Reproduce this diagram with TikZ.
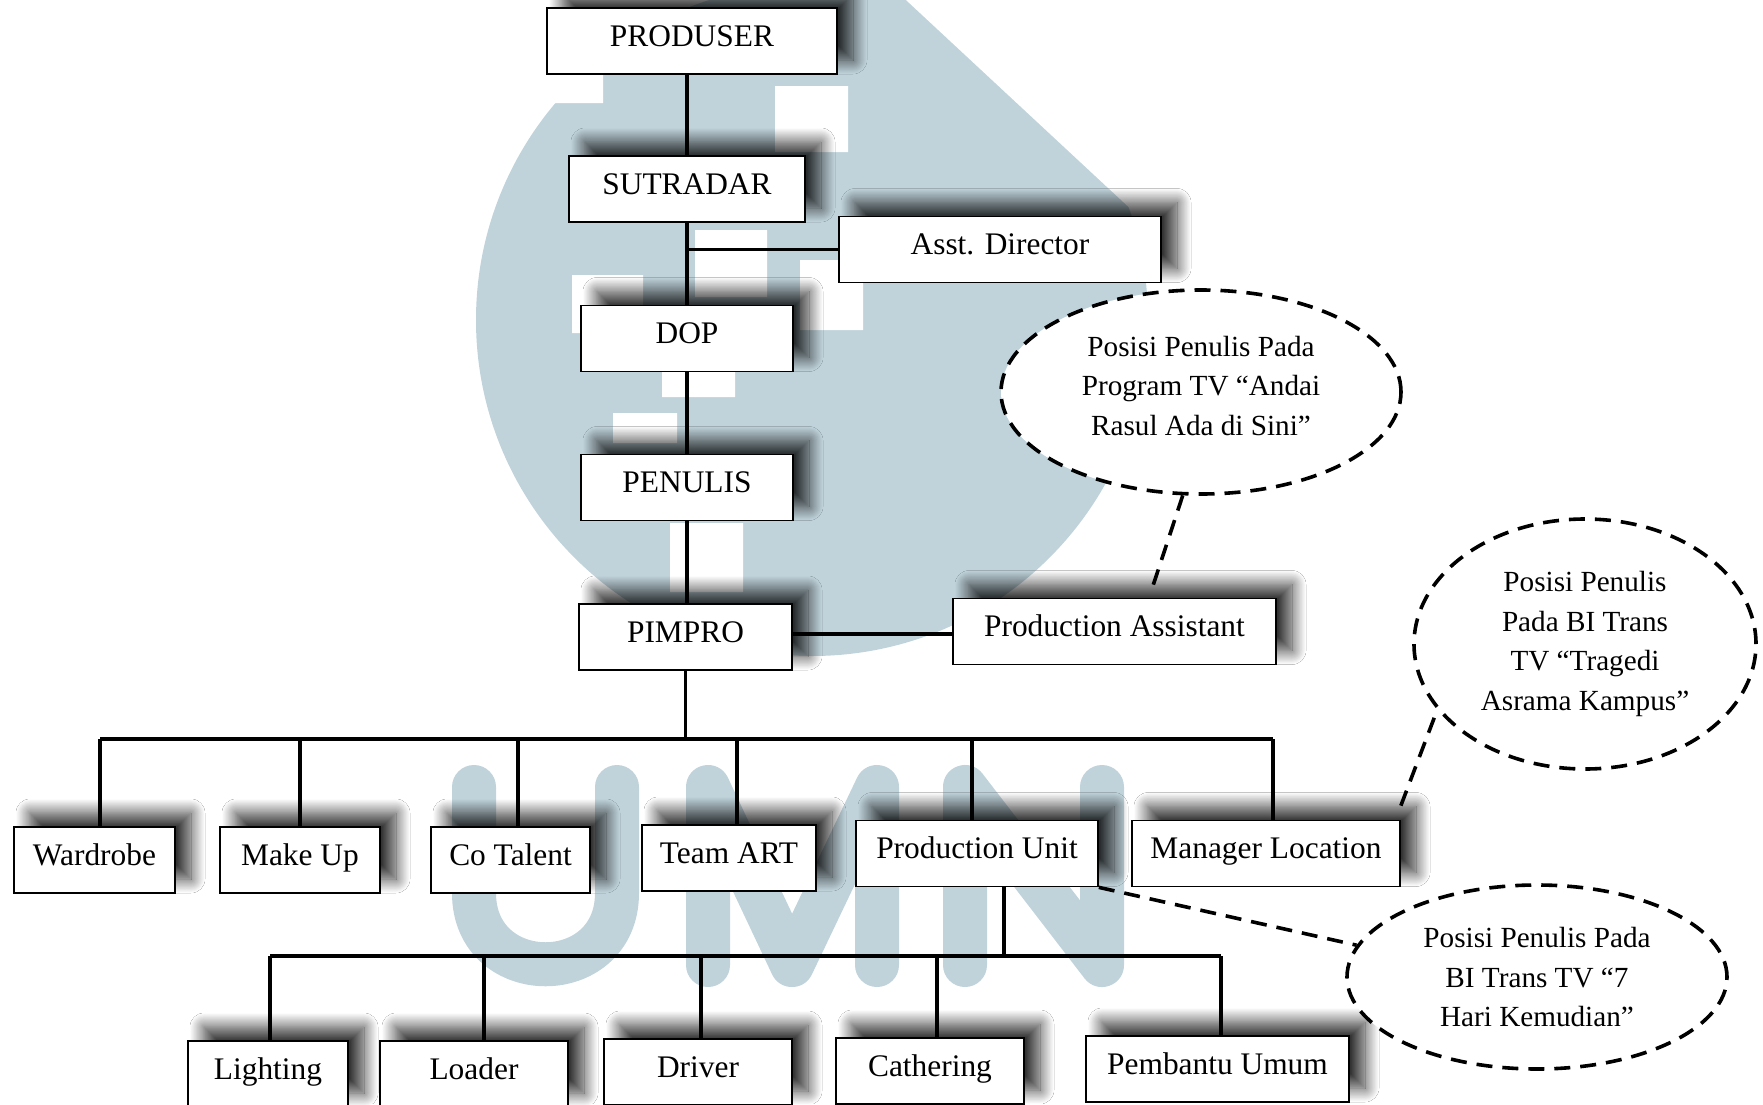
\documentclass[tikz,border=0pt]{standalone}
\usepackage{fontspec}
\setmainfont{Liberation Serif}
\usepackage{tikz}
\usetikzlibrary{shapes.geometric, shadows.blur, backgrounds}
\definecolor{wm}{RGB}{192,211,219}

\begin{document}
\begin{tikzpicture}[x=.5pt, y=-.5pt,
  box/.style={draw, line width=.85pt, fill=white, minimum height=33pt, inner sep=0pt,
    text height=9pt, text depth=4pt, font=\fontsize{15.7}{19}\selectfont,
    blur shadow={shadow xshift=8pt, shadow yshift=7pt, shadow blur radius=7pt,
      shadow blur steps=24, shadow opacity=80}},
  note/.style={ellipse, draw, fill=white, line width=1.8pt, dash pattern=on 8pt off 5pt,
    align=center, inner sep=0pt, font=\fontsize{14.6}{19.7}\selectfont},
  link/.style={line width=1.6pt},
  hint/.style={line width=1.8pt, dash pattern=on 8pt off 5pt}]
\useasboundingbox (0,0) rectangle (1763,1104);
\node[box, minimum width=145pt] (prod) at (692,41) {PRODUSER};
\node[box, minimum width=118pt] (sutr) at (687,189) {SUTRADAR};
\node[box, minimum width=161pt] (asst) at (1000,249.5) {Asst. Director};
\node[box, minimum width=106pt] (dop) at (687,338.5) {DOP};
\node[box, minimum width=106pt] (penulis) at (687,487.5) {PENULIS};
\node[box, minimum width=106.5pt] (pimpro) at (685.5,637) {PIMPRO};
\node[box, minimum width=161.5pt] (pa) at (1114.5,631.5) {Production Assistant};
\node[box, minimum width=80.5pt] (wardrobe) at (94.5,860) {Wardrobe};
\node[box, minimum width=80pt] (makeup) at (300,860) {Make Up};
\node[box, minimum width=79.5pt] (cotalent) at (510.5,860) {Co Talent};
\node[box, minimum width=87pt] (teamart) at (729,858) {Team ART};
\node[box, minimum width=121pt] (produnit) at (977,853.5) {Production Unit};
\node[box, minimum width=134pt] (manager) at (1266,853.5) {Manager Location};
\node[box, minimum width=80pt] (lighting) at (268,1074) {Lighting};
\node[box, minimum width=94pt] (loader) at (474,1074) {Loader};
\node[box, minimum width=94pt] (driver) at (698,1072) {Driver};
\node[box, minimum width=94pt] (cathering) at (930,1071) {Cathering};
\node[box, minimum width=131.5pt] (pembantu) at (1217.5,1069) {Pembantu Umum};
\node[note, minimum width=200pt, minimum height=102pt, text depth=6.5pt] (note1) at (1201,392)
  {Posisi Penulis Pada\\Program TV “Andai\\Rasul Ada di Sini”};
\node[note, minimum width=171pt, minimum height=125pt] (note2) at (1585,644)
  {Posisi Penulis\\Pada BI Trans\\TV “Tragedi\\Asrama Kampus”};
\node[note, minimum width=190pt, minimum height=92pt] (note3) at (1537,977)
  {Posisi Penulis Pada\\BI Trans TV “7\\Hari Kemudian”};
\begin{pgfonlayer}{background}
\fill[white] (0,0) rectangle (1763,1104);
\fill[wm] (812,320) circle[radius=168pt];
\fill[white] (906,0) -- (1320,0) -- (1320,385) -- cycle;
\fill[white] (775,86) rectangle (848,152) (695,230) rectangle (767,297)
  (800,260) rectangle (863,330) (572,275) rectangle (643,333)
  (662,372) rectangle (735,397) (613,413) rectangle (677,443)
  (670,523) rectangle (743,592) (530,70) rectangle (603,103);
\draw[wm, line width=22pt, line cap=round, line join=round]
  (474,787) -- (474,893) .. controls (474,988) and (617,988) .. (617,893) -- (617,787)
  (708,965) -- (708,787) -- (792,965) -- (877,787) -- (877,965)
  (965,965) -- (965,787) -- (1102,965) -- (1102,787);
\draw[link] (sutr.north) -- (sutr.north |- prod.south);
\draw[link] (sutr) -- (dop);
\draw[link] (asst.west) -- (asst.west -| sutr.south);
\draw[link] (dop) -- (penulis);
\draw[link] (penulis.south) -- (penulis.south |- pimpro.north);
\draw[link] ([yshift=1.5pt]pimpro.east) -- ([yshift=1.5pt]pimpro.east -| pa.west);
\foreach \n/\x in {wardrobe/100, makeup/300, cotalent/518, teamart/737, produnit/972, manager/1273}{
  \coordinate (t\n) at (\x,739);
  \draw[link] (t\n) -- (t\n |- \n.north);}
\draw[link] (twardrobe) -- (tmanager);
\draw[link] (pimpro.south) -- (pimpro.south |- twardrobe);
\coordinate (tunit) at (1004,956);
\draw[link] (tunit |- produnit.south) -- (tunit);
\foreach \n/\x in {lighting/270, loader/484, driver/701, cathering/937, pembantu/1221}{
  \coordinate (t\n) at (\x,956);
  \draw[link] (t\n) -- (t\n |- \n.north);}
\draw[link] (tlighting) -- (tpembantu);
\draw[hint] (note1.-100) -- ([xshift=19.25pt, yshift=6pt]pa.north);
\draw[hint] ([yshift=7pt]manager.north east) -- (note2.204);
\draw[hint] (produnit.south east) -- (note3.170);
\end{pgfonlayer}
\end{tikzpicture}
\end{document}
